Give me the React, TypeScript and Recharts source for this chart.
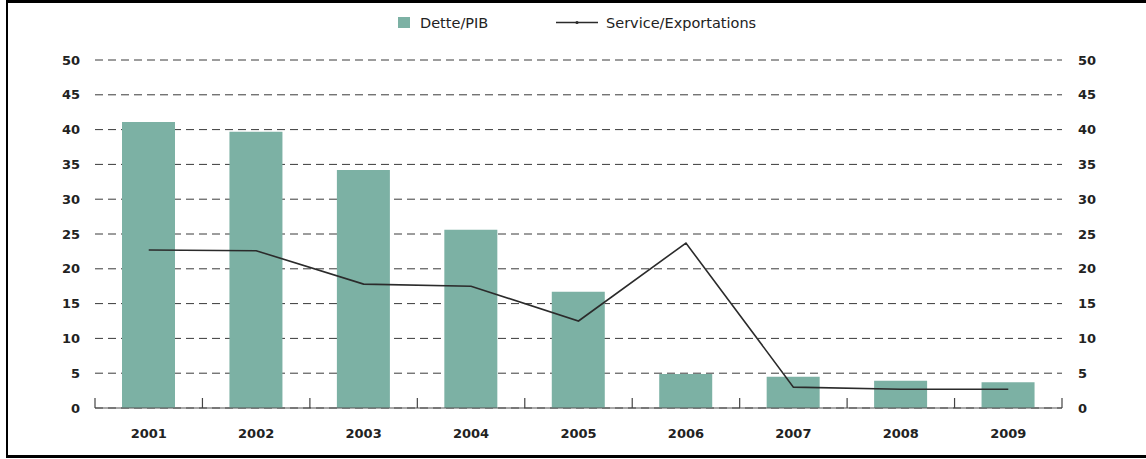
import React from 'react';
import { ComposedChart, Bar, Line, XAxis, YAxis, CartesianGrid } from 'recharts';

const years = ['2001', '2002', '2003', '2004', '2005', '2006', '2007', '2008', '2009'];
const detteSurPib = [41.1, 39.7, 34.2, 25.6, 16.7, 4.9, 4.5, 3.9, 3.7];
const serviceSurExportations = [22.7, 22.6, 17.8, 17.5, 12.5, 23.7, 3.0, 2.7, 2.7];
const yTicks = [0, 5, 10, 15, 20, 25, 30, 35, 40, 45, 50];
const boundaryTicks = [0, 1, 2, 3, 4, 5, 6, 7, 8, 9];

const data = years.map((y, i) => ({
  year: y,
  pos: i + 0.5,
  dette: detteSurPib[i],
  service: serviceSurExportations[i],
}));

const FONT = '"DejaVu Sans", "Liberation Sans", Arial, sans-serif';
const BAR_COLOR = '#7cb1a4';
const LINE_COLOR = '#2b2b2b';
const tickStyle = { fontFamily: FONT, fontSize: 13, fontWeight: 700, fill: '#222' };

export default function App() {
  return (
    <div style={{ position: 'absolute', left: 0, top: 0, width: 1146, height: 459, background: '#fff' }}>
      <div
        style={{
          position: 'absolute',
          left: 6,
          top: 0,
          width: 1140,
          height: 458,
          borderTop: '3px solid #000',
          borderLeft: '2px solid #000',
          borderBottom: '3px solid #000',
          boxSizing: 'border-box',
        }}
      />
      <ComposedChart
        width={1146}
        height={459}
        data={data}
        margin={{ top: 60, right: 44, bottom: 21, left: 55 }}
        style={{ position: 'absolute', left: 0, top: 0 }}
      >
        <CartesianGrid
          yAxisId="left"
          xAxisId="cat"
          vertical={false}
          stroke="#3a3a3a"
          strokeDasharray="8 5"
        />
        <XAxis
          dataKey="year"
          xAxisId="cat"
          tickLine={false}
          axisLine={{ stroke: '#555', strokeWidth: 1.2 }}
          tick={tickStyle}
          tickMargin={15}
          height={30}
          interval={0}
        />
        <XAxis
          xAxisId="bnd"
          dataKey="pos"
          type="number"
          domain={[0, 9]}
          ticks={boundaryTicks}
          interval={0}
          mirror
          axisLine={false}
          tickSize={10}
          tickLine={{ stroke: '#444', strokeWidth: 1.2 }}
          tickFormatter={() => ''}
          height={30}
          allowDataOverflow
        />
        <YAxis
          yAxisId="left"
          domain={[0, 50]}
          ticks={yTicks}
          axisLine={false}
          tickLine={false}
          tickMargin={9}
          width={40}
          tick={tickStyle}
          interval={0}
        />
        <YAxis
          yAxisId="right"
          orientation="right"
          domain={[0, 50]}
          ticks={yTicks}
          axisLine={false}
          tickLine={false}
          tickMargin={10}
          width={40}
          tick={{ ...tickStyle, textAnchor: 'start' }}
          interval={0}
        />
        <Bar
          xAxisId="cat"
          yAxisId="left"
          dataKey="dette"
          fill={BAR_COLOR}
          barSize={53}
          isAnimationActive={false}
        />
        <Line
          xAxisId="cat"
          yAxisId="right"
          dataKey="service"
          stroke={LINE_COLOR}
          strokeWidth={1.6}
          dot={false}
          activeDot={false}
          type="linear"
          isAnimationActive={false}
        />
      </ComposedChart>
      <div style={{ position: 'absolute', left: 398, top: 17, width: 12, height: 11, background: BAR_COLOR }} />
      <div
        style={{
          position: 'absolute',
          left: 420,
          top: 14,
          fontFamily: FONT,
          fontSize: 14.5,
          color: '#222',
          lineHeight: '18px',
          whiteSpace: 'nowrap',
        }}
      >
        Dette/PIB
      </div>
      <svg style={{ position: 'absolute', left: 554, top: 16 }} width={46} height={12}>
        <line x1={2} y1={6.5} x2={44} y2={6.5} stroke={LINE_COLOR} strokeWidth={1.4} />
        <circle cx={23} cy={6.5} r={1.6} fill={LINE_COLOR} />
      </svg>
      <div
        style={{
          position: 'absolute',
          left: 606,
          top: 14,
          fontFamily: FONT,
          fontSize: 14.5,
          color: '#222',
          lineHeight: '18px',
          whiteSpace: 'nowrap',
        }}
      >
        Service/Exportations
      </div>
    </div>
  );
}
